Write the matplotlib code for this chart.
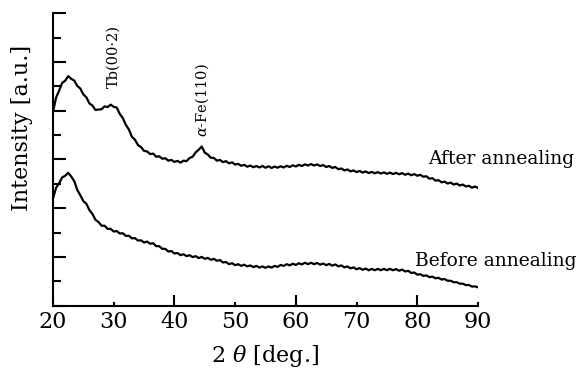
import numpy as np
import matplotlib.pyplot as plt

plt.rcParams['font.family'] = 'DejaVu Serif'
plt.rcParams['mathtext.fontset'] = 'dejavuserif'

# 2theta sampling (deg.), every 0.5 deg from 20 to 90
two_theta = np.linspace(20, 90, 141)

# intensity (arbitrary units)
after_annealing = [
    7.95, 8.53, 8.82, 9.14, 9.23, 9.42, 9.31, 9.24, 9.02, 8.91,
    8.67, 8.55, 8.30, 8.21, 8.03, 8.05, 8.06, 8.18, 8.15, 8.25,
    8.16, 8.13, 7.87, 7.70, 7.42, 7.23, 6.93, 6.81, 6.59, 6.51,
    6.35, 6.33, 6.22, 6.24, 6.11, 6.13, 6.03, 6.05, 5.95, 5.98,
    5.90, 5.94, 5.87, 5.95, 5.93, 6.06, 6.11, 6.29, 6.40, 6.53,
    6.28, 6.20, 6.07, 6.06, 5.95, 5.98, 5.89, 5.93, 5.84, 5.88,
    5.79, 5.82, 5.74, 5.78, 5.70, 5.75, 5.68, 5.73, 5.67, 5.73,
    5.66, 5.72, 5.65, 5.71, 5.66, 5.72, 5.67, 5.74, 5.69, 5.76,
    5.71, 5.78, 5.73, 5.80, 5.75, 5.81, 5.75, 5.80, 5.73, 5.77,
    5.69, 5.73, 5.65, 5.69, 5.60, 5.63, 5.55, 5.59, 5.51, 5.55,
    5.48, 5.53, 5.46, 5.51, 5.44, 5.49, 5.43, 5.48, 5.42, 5.47,
    5.41, 5.46, 5.40, 5.45, 5.39, 5.44, 5.37, 5.42, 5.35, 5.40,
    5.33, 5.37, 5.29, 5.31, 5.21, 5.23, 5.13, 5.15, 5.06, 5.09,
    5.01, 5.05, 4.97, 5.01, 4.93, 4.97, 4.89, 4.92, 4.84, 4.89,
    4.83,
]
before_annealing = [
    4.40, 4.83, 5.02, 5.26, 5.33, 5.45, 5.30, 5.11, 4.75, 4.53,
    4.29, 4.18, 3.92, 3.76, 3.52, 3.43, 3.28, 3.28, 3.15, 3.15,
    3.04, 3.06, 2.96, 2.97, 2.86, 2.87, 2.76, 2.77, 2.67, 2.68,
    2.59, 2.63, 2.54, 2.56, 2.44, 2.44, 2.33, 2.33, 2.22, 2.24,
    2.14, 2.16, 2.07, 2.11, 2.03, 2.07, 1.99, 2.03, 1.95, 2.00,
    1.92, 1.96, 1.88, 1.92, 1.84, 1.87, 1.77, 1.79, 1.70, 1.74,
    1.66, 1.70, 1.63, 1.68, 1.61, 1.65, 1.58, 1.63, 1.56, 1.61,
    1.55, 1.61, 1.56, 1.63, 1.59, 1.67, 1.63, 1.70, 1.65, 1.72,
    1.67, 1.74, 1.69, 1.76, 1.70, 1.76, 1.70, 1.75, 1.68, 1.73,
    1.66, 1.71, 1.64, 1.69, 1.61, 1.65, 1.57, 1.61, 1.53, 1.57,
    1.49, 1.54, 1.47, 1.52, 1.45, 1.51, 1.45, 1.51, 1.45, 1.51,
    1.45, 1.51, 1.45, 1.50, 1.43, 1.48, 1.40, 1.43, 1.34, 1.36,
    1.27, 1.29, 1.22, 1.24, 1.17, 1.19, 1.12, 1.14, 1.07, 1.09,
    1.02, 1.02, 0.96, 0.96, 0.90, 0.90, 0.84, 0.85, 0.78, 0.79,
    0.75,
]

fig = plt.figure(figsize=(5.81, 3.69), dpi=100)
ax = fig.add_axes([0.0912, 0.1718, 0.7315, 0.7922])

ax.plot(two_theta, after_annealing, color='black', lw=1.6)
ax.plot(two_theta, before_annealing, color='black', lw=1.6)

ax.set_xlim(20, 90)
ax.set_ylim(0, 12)

# spines: only left and bottom
for side in ['top', 'right']:
    ax.spines[side].set_visible(False)
for side in ['left', 'bottom']:
    ax.spines[side].set_linewidth(1.5)

ax.set_xticks([20, 40, 60, 80])
ax.set_xticks([30, 50, 70, 90], labels=['30', '50', '70', '90'], minor=True)
ax.set_yticks(range(0, 13, 2))
ax.set_yticks(range(1, 13, 2), minor=True)
ax.set_yticklabels([])
ax.tick_params(which='both', direction='in', width=1.5, labelsize=16, pad=4)
ax.tick_params(axis='x', which='major', length=8)
ax.tick_params(axis='x', which='minor', length=3)
ax.tick_params(axis='y', which='major', length=9)
ax.tick_params(axis='y', which='minor', length=6)

ax.set_xlabel(r'2 $\theta$ [deg.]', fontsize=16, labelpad=7)
ax.set_ylabel('Intensity [a.u.]', fontsize=16)
ax.yaxis.set_label_coords(-0.047, 0.609)

# annotations
ax.text(81.8, 5.81, 'After annealing', fontsize=13.5, ha='left', va='baseline', clip_on=False)
ax.text(79.6, 1.63, 'Before annealing', fontsize=13.5, ha='left', va='baseline', clip_on=False)
ax.text(30.0, 8.93, 'Tb(00·2)', fontsize=10.5, rotation=90, ha='center', va='bottom')
ax.text(44.6, 6.93, r'$\alpha$-Fe(110)', fontsize=10.5, rotation=90, ha='center', va='bottom')

plt.savefig('out.png', dpi=100)
